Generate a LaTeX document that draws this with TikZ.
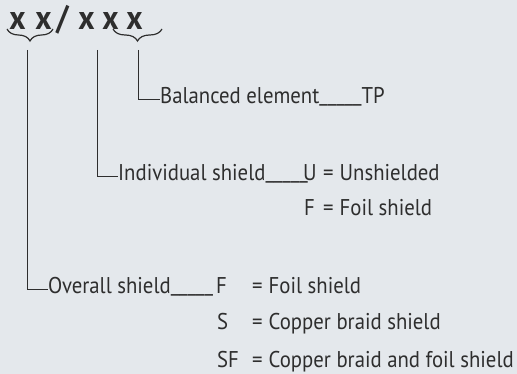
\documentclass[tikz,border=0pt]{standalone}
\usepackage{fontspec}
\setmainfont{PT Sans}[FakeStretch=0.91]
\usetikzlibrary{decorations.pathreplacing}
\definecolor{bg}{HTML}{E4E8EC}
\definecolor{ink}{HTML}{2E2E2E}
\newcommand\eqgap{=\hspace{6pt}}
\newcommand\uscore{\raisebox{2.5pt}{\_\_\_\_\_}}
\begin{document}
\begin{tikzpicture}[x=1pt,y=-1pt,
  lbl/.style={inner sep=0pt, anchor=base west, text=ink, font=\fontsize{22.8}{27}\selectfont},
  big/.style={inner sep=0pt, anchor=base, text=ink, font=\fontsize{34}{40}\selectfont\bfseries},
  lead/.style={draw=ink, line width=0.9pt},
  brc/.style={draw=ink, line width=1.2pt, decorate, decoration={brace, mirror, amplitude=12pt}}]
\fill[bg] (0,0) rectangle (517,374);
\useasboundingbox (0,0) rectangle (517,374);
% title
\node[big] (x1) at (17.5,30) {x};
\node[big] (x2) at (43.5,30) {x};
\node[big] (sl) at (62.5,30) {/};
\node[big] (x3) at (86.5,30) {x};
\node[big] (x4) at (110.5,30) {x};
\node[big] (x5) at (134.5,30) {x};
\draw[brc] (7,29) -- (53,29);
\draw[brc] (113,29) -- (162,29);
\coordinate (s1) at (27,50);
\coordinate (s2) at (97,50);
\coordinate (s3) at (138,50);
% labels
\node[lbl] (bal) at (160,104) {Balanced element\uscore TP};
\node[lbl] (ind) at (118,181) {Individual shield\uscore};
\node[lbl] (iU) at (303,181) {U};
\node[lbl] (iUe) at (323,181) {\eqgap Unshielded};
\node[lbl] (iF) at (304,216) {F};
\node[lbl] (iFe) at (323,216) {\eqgap Foil shield};
\node[lbl] (ov) at (48,294) {Overall shield\uscore};
\node[lbl] (oF) at (216,294) {F};
\node[lbl] (oFe) at (252,294) {\eqgap Foil shield};
\node[lbl] (oS) at (217,330) {S};
\node[lbl] (oSe) at (252,330) {\eqgap Copper braid shield};
\node[lbl] (oSF) at (217,367) {SF};
\node[lbl] (oSFe) at (252,367) {\eqgap Copper braid and foil shield};
% leaders
\draw[lead] (s3) |- ([yshift=4.5pt]bal.base west);
\draw[lead] (s2) |- ([yshift=5pt]ind.base west);
\draw[lead] (s1) |- ([yshift=5pt]ov.base west);
\end{tikzpicture}
\end{document}
